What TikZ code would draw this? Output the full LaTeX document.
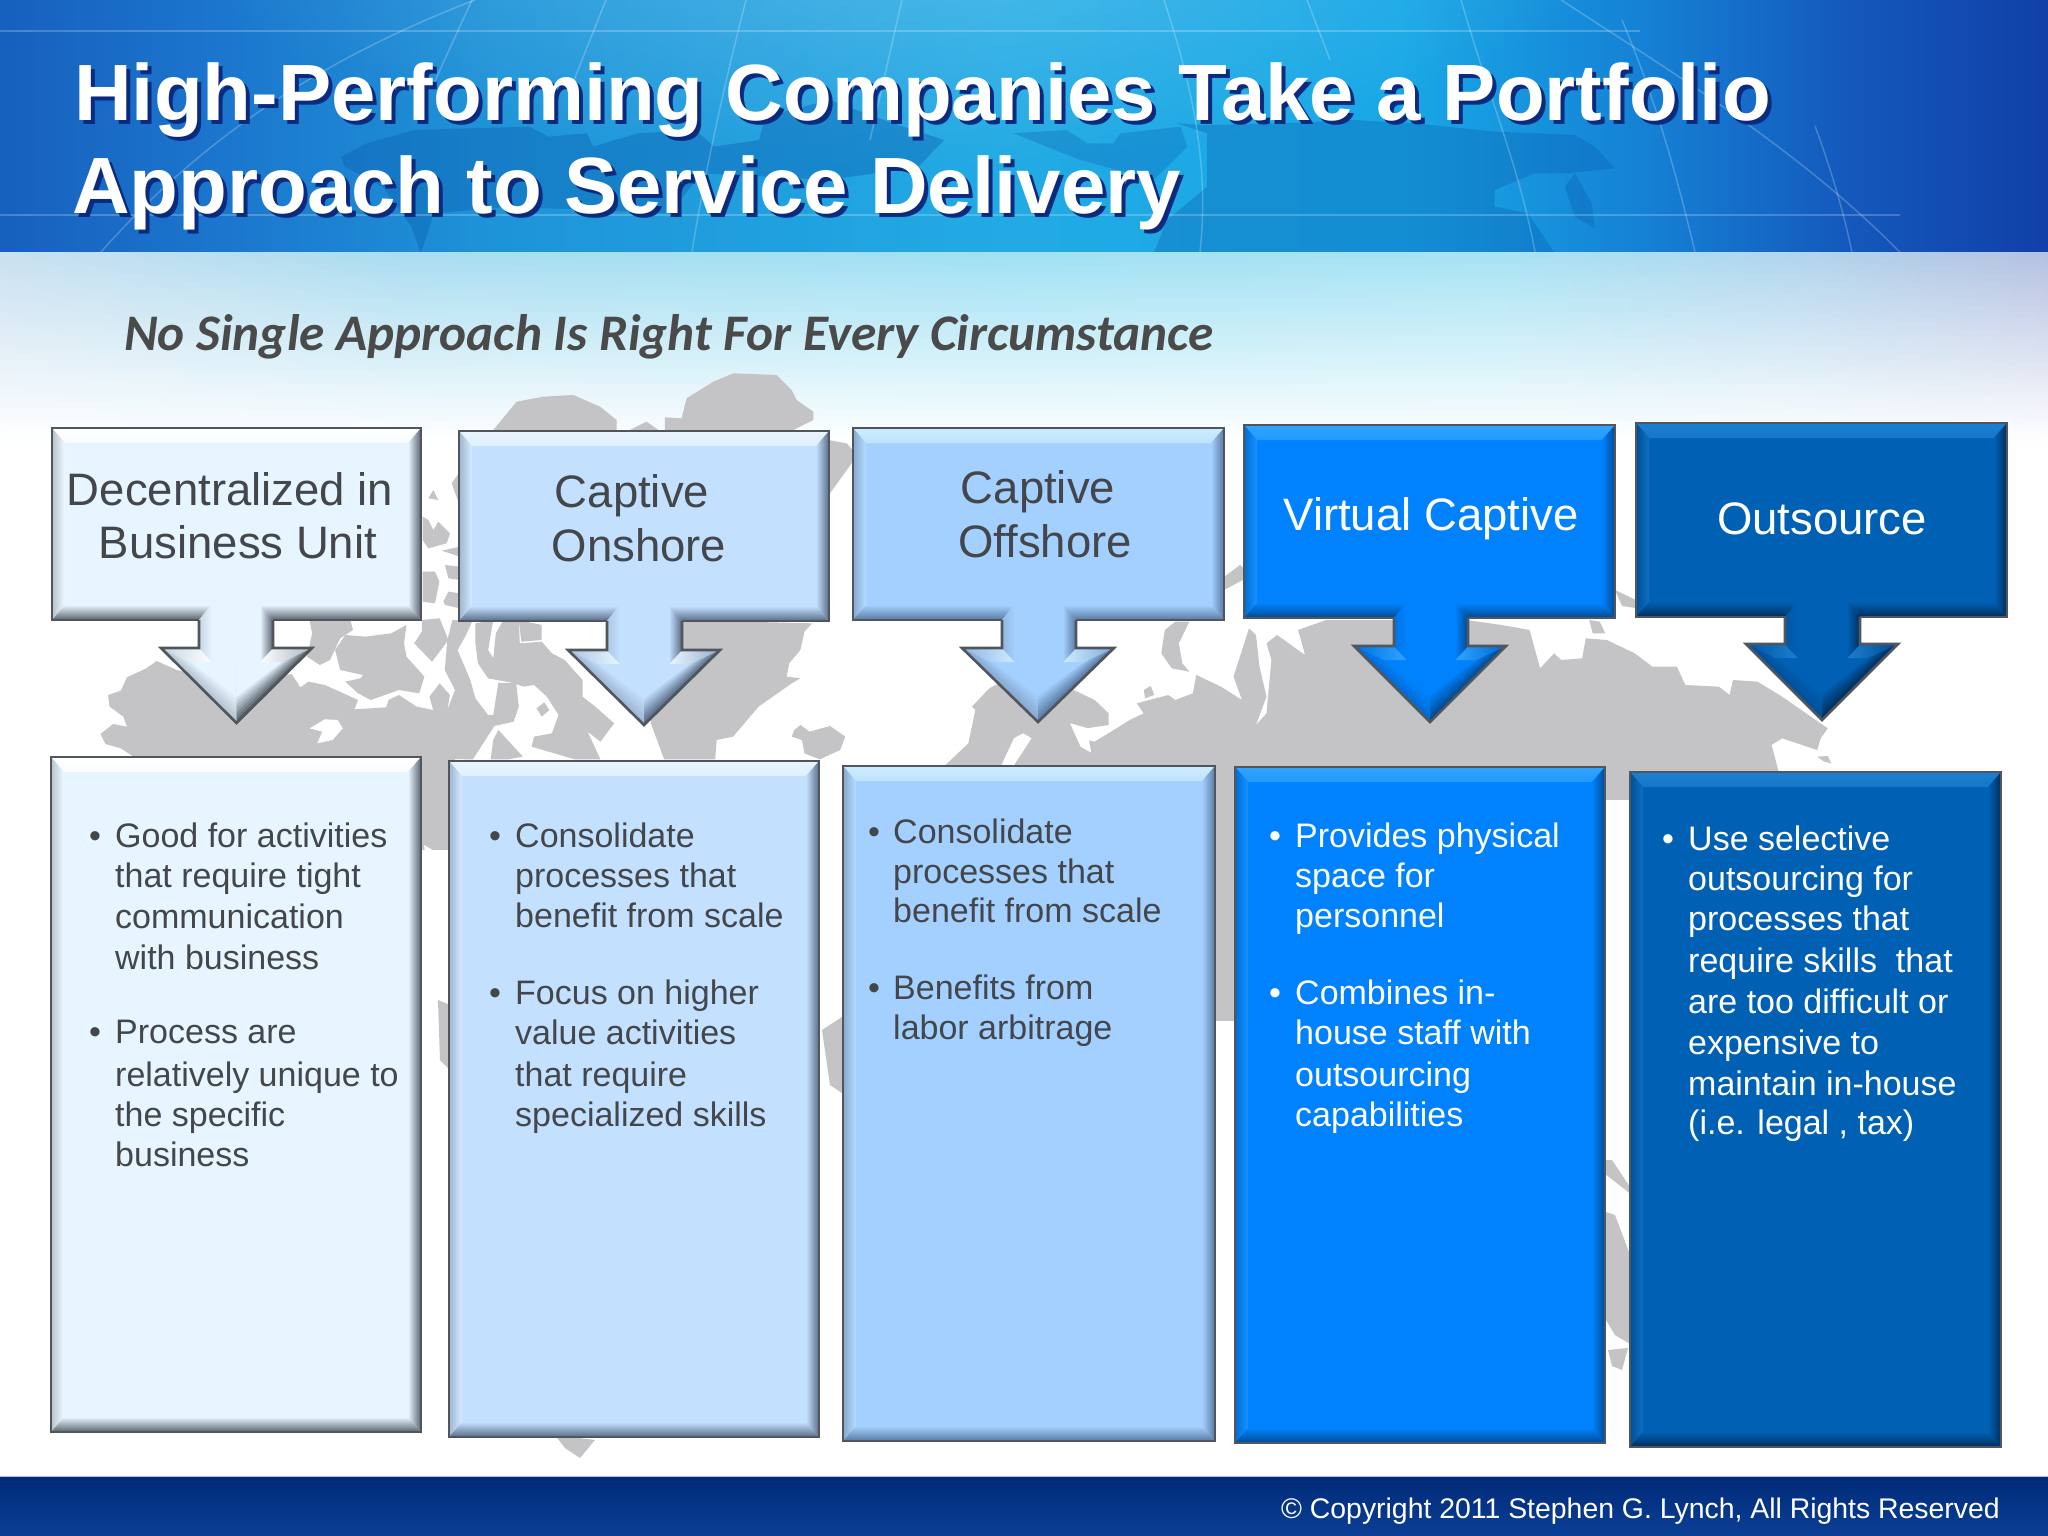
\documentclass[tikz,border=0pt]{standalone}
\usepackage{fontspec}
\setmainfont{Liberation Sans}
\newfontfamily\subf{Carlito}
\usetikzlibrary{fadings,calc}
\tikzfading[name=frad, inner color=transparent!0, outer color=transparent!100]
\definecolor{paF}{HTML}{E6F5FF}\definecolor{paH}{HTML}{FFFFFF}\definecolor{paL}{HTML}{B4C2CF}\definecolor{paD}{HTML}{5A636D}
\definecolor{pbF}{HTML}{C4E0FF}\definecolor{pbH}{HTML}{EAF6FF}\definecolor{pbL}{HTML}{9DB6D2}\definecolor{pbD}{HTML}{586C86}
\definecolor{pcF}{HTML}{A4D0FF}\definecolor{pcH}{HTML}{CCECFF}\definecolor{pcL}{HTML}{86A8CE}\definecolor{pcD}{HTML}{587AA2}
\definecolor{pdF}{HTML}{0082FF}\definecolor{pdH}{HTML}{30A4FF}\definecolor{pdL}{HTML}{006CD4}\definecolor{pdD}{HTML}{004A90}
\definecolor{peF}{HTML}{0060B4}\definecolor{peH}{HTML}{1C80D0}\definecolor{peL}{HTML}{004F98}\definecolor{peD}{HTML}{002E5C}
\definecolor{mapc}{HTML}{C4C3C5}
\definecolor{edgec}{HTML}{50565C}
\definecolor{txtd}{HTML}{43474B}
\definecolor{landd}{HTML}{0A5FB0}
\definecolor{foota}{HTML}{002A78}
\definecolor{footb}{HTML}{0B3F96}
\definecolor{footl}{HTML}{B0C0E0}
\definecolor{tshadow}{HTML}{0A2A80}
\definecolor{subc}{HTML}{4A4A4A}
\tikzset{
 land/.style={fill=mapc,draw=none},
 hole/.style={fill=white,draw=none},
 lbl/.style={anchor=base,inner sep=0pt,font=\fontsize{45.5}{50}\selectfont},
 bodyd/.style={anchor=base west,inner sep=0pt,text=txtd,font=\fontsize{34}{38}\selectfont},
 bodyw/.style={anchor=base west,inner sep=0pt,text=white,font=\fontsize{34}{38}\selectfont},
 bulld/.style={anchor=base,inner sep=0pt,text=txtd,font=\fontsize{34}{38}\selectfont},
 bullw/.style={anchor=base,inner sep=0pt,text=white,font=\fontsize{34}{38}\selectfont},
 ttl/.style={anchor=base west,inner sep=0pt,font=\fontsize{79.8}{88}\selectfont\bfseries},
 grid/.style={draw=white,opacity=.22,line width=1.5pt},
}
% name x1 y1 x2 y2 palette
\newcommand{\bevbox}[6]{%
 \fill[#6F] (#2,#3) rectangle (#4,#5);
 \path (#2,#3) coordinate (#1nw) (#4,#5) coordinate (#1se);
 \shade[top color=#6H,bottom color=#6H!70!#6F] (#2,#3) -- (#4,#3) -- (#4-13,#3+15) -- (#2+13,#3+15) -- cycle;
 \shade[left color=#6L,right color=#6H!50!#6F] (#2,#3) -- (#2+13,#3+15) -- (#2+13,#5-15) -- (#2,#5) -- cycle;
 \shade[left color=#6F,right color=#6D] (#4,#3) -- (#4-13,#3+15) -- (#4-13,#5-15) -- (#4,#5) -- cycle;
 \shade[top color=#6F,bottom color=#6D] (#2,#5) -- (#2+13,#5-15) -- (#4-13,#5-15) -- (#4,#5) -- cycle;
 \draw[edgec,line width=2.6pt] (#2,#3) rectangle (#4,#5);
}
% name sL sR wL wR wy tipy boxbottom palette
\newcommand{\bevarrow}[9]{%
 \pgfmathsetmacro\cx{(#4+#5)/2}%
 \path (\cx,#7) coordinate (#1tip);
 \foreach \k in {0,...,7}{%
  \pgfmathsetmacro\t{\k/7}%
  \pgfmathtruncatemacro\pc{100*(1-\t)}%
  \fill[{#9L!\pc!#9F}] (#4+30*\t,#6+14*\t) -- (\cx,#6+14*\t) -- (\cx,#7-26*\t) -- cycle;
  \fill[{#9D!\pc!#9F}] (#5-30*\t,#6+14*\t) -- (\cx,#6+14*\t) -- (\cx,#7-26*\t) -- cycle;
 }
 \fill[#9F] (#2+13,#8-16) -- (#3-13,#8-16) -- (#3,#8) -- (#3,#6+16) -- (#2,#6+16) -- (#2,#8) -- cycle;
 \shade[left color=#9L!60!#9F,right color=#9H] (#4+2,#6+1) -- (#2,#6+1) -- (#2+13,#6+14) -- (#4+30,#6+14) -- cycle;
 \shade[left color=#9H,right color=#9D!40!#9F] (#5-2,#6+1) -- (#3,#6+1) -- (#3-13,#6+14) -- (#5-30,#6+14) -- cycle;
 \shade[left color=#9L!60!#9F,right color=#9F] (#2,#8) -- (#2+13,#8-16) -- (#2+13,#6+14) -- (#2,#6) -- cycle;
 \shade[left color=#9F,right color=#9D] (#3-13,#8-16) -- (#3,#8) -- (#3,#6) -- (#3-13,#6+14) -- cycle;
 \draw[edgec,line width=2.6pt,line join=miter] (#2,#8) -- (#2,#6) -- (#4,#6) -- (\cx,#7) -- (#5,#6) -- (#3,#6) -- (#3,#8);
}
\newcommand{\hseg}[5]{\fill[left color=#3,right color=#4,#5] (#1,0) rectangle (#2,252);}
\begin{document}
\begin{tikzpicture}[x=1pt,y=-1pt]
\useasboundingbox (0,0) rectangle (2048,1536);
\fill[white] (0,0) rectangle (2048,1536);
% header
\definecolor{h0}{HTML}{1760BD}\definecolor{h1}{HTML}{1B74CC}\definecolor{h2}{HTML}{1E94D8}\definecolor{h3}{HTML}{22AAE4}
\definecolor{h4}{HTML}{18A8E6}\definecolor{h5}{HTML}{1580D4}\definecolor{h6}{HTML}{1458BC}\definecolor{h7}{HTML}{1040A8}
\hseg{0}{200.5}{h0}{h1}{}
\hseg{200}{500.5}{h1}{h2}{}
\hseg{500}{1000.5}{h2}{h3}{}
\hseg{1000}{1400.5}{h3}{h4}{}
\hseg{1400}{1650.5}{h4}{h5}{}
\hseg{1650}{1850.5}{h5}{h6}{}
\hseg{1850}{2048}{h6}{h7}{}
\begin{scope}
 \clip (0,0) rectangle (2048,252);
 \fill[white,opacity=.2,path fading=frad] (900,-60) ellipse [x radius=720,y radius=230];
 % world map in the header
 \begin{scope}[x=0.6378pt,y=-0.3333pt]
  \fill[landd,opacity=.4] (535,470) -- (575,430) -- (650,390) -- (830,380) -- (860,410) -- (920,400) -- (930,440) -- (1000,400) -- (1090,390) -- (1120,440) -- (1190,420) -- (1200,350) -- (1300,300) -- (1400,370) -- (1480,420) -- (1440,500) -- (1300,540) -- (1100,520) -- (1050,640) -- (800,620) -- (680,640) -- (660,760) -- (645,680) -- (600,560) -- (540,500) -- cycle;
 \end{scope}
 \begin{scope}[shift={(1000,0)},x=0.6684pt,y=-0.3333pt]
  \fill[landd,opacity=.35] (265,370) -- (300,375) -- (400,372) -- (530,360) -- (620,370) -- (740,395) -- (860,405) -- (890,440) -- (920,505) -- (850,520) -- (800,520) -- (740,570) -- (740,620) -- (790,640) -- (830,760) -- (230,760) -- (250,660) -- (310,560) -- (310,400) -- cycle;
  \fill[landd,opacity=.35] (845,560) -- (860,520) -- (885,610) -- (890,685) -- (860,650) -- cycle;
  \fill[landd,opacity=.3] (20,400) -- (100,390) -- (130,430) -- (170,430) -- (180,400) -- (270,380) -- (280,440) -- (230,540) -- (120,480) -- cycle;
 \end{scope}
 % graticule
 \draw[grid] (0,31) -- (1640,31);
 \draw[grid] (0,215) -- (1900,215);
 \draw[grid] (475,0) .. controls (319,60) and (191,143) .. (83,273);
 \draw[grid] (472,0) -- (434,83);
 \draw[grid] (606,0) -- (574,80);
 \draw[grid] (746,0) .. controls (720,100) and (700,200) .. (692,252);
 \draw[grid] (902,0) -- (870,140);
 \draw[grid] (1164,0) .. controls (1190,80) and (1210,160) .. (1200,252);
 \draw[grid] (1307,0) -- (1330,60);
 \draw[grid] (1461,0) .. controls (1490,100) and (1520,170) .. (1535,252);
 \draw[grid] (1561,0) .. controls (1700,90) and (1830,170) .. (1935,290);
 \draw[grid] (1622,20) .. controls (1660,110) and (1680,190) .. (1695,252);
 \draw[grid] (1815,126) .. controls (1835,180) and (1845,220) .. (1852,252);
\end{scope}
% fade below header
\definecolor{f0}{HTML}{C9E0F0}\definecolor{f1}{HTML}{A9DCF0}\definecolor{f2}{HTML}{9FE0F3}\definecolor{f3}{HTML}{A7E2F3}\definecolor{f4}{HTML}{B0D4EC}\definecolor{f5}{HTML}{B4C0E0}
\foreach \r in {0,...,31}{%
 \pgfmathtruncatemacro\p{100*(1-(\r+.5)/32)}%
 \pgfmathsetmacro\yy{252+6*\r}%
 \foreach \a/\b/\ca/\cb in {0/400/f0/f1,400/1000/f1/f2,1000/1500/f2/f3,1500/1800/f3/f4,1800/2048/f4/f5}{%
  \shade[left color=\ca!\p!white,right color=\cb!\p!white] (\a,\yy) rectangle (\b+.5,\yy+6.5);
 }
}
% grey map, left part
\begin{scope}[shift={(80,600)},x=0.5102pt,y=-0.3333pt]
 \fill[land] (150,183) -- (130,205) -- (92,232) -- (80,272) -- (55,285) -- (58,320) -- (85,350) -- (92,380) -- (65,372) -- (40,402) -- (50,432) -- (80,445) -- (105,470) -- (770,478) -- (805,395) -- (812,378) -- (850,365) -- (860,320) -- (855,250) -- (820,248) -- (810,345) -- (800,345) -- (775,295) -- (765,240) -- (740,150) -- (755,110) -- (770,60) -- (730,60) -- (720,120) -- (715,210) -- (735,270) -- (720,330) -- (725,285) -- (705,250) -- (685,290) -- (692,330) -- (660,320) -- (625,285) -- (605,300) -- (600,322) -- (538,328) -- (545,300) -- (480,255) -- (448,245) -- (432,262) -- (415,222) -- (300,250) -- (190,210) -- cycle;
 \fill[hole] (450,385) -- (480,358) -- (505,360) -- (515,385) -- (495,420) -- (465,430) -- (475,395) -- cycle;
 \fill[land] (450,60) -- (530,60) -- (535,90) -- (510,115) -- (490,180) -- (470,195) -- (445,170) -- (455,100) -- cycle;
 \fill[land] (500,150) -- (520,105) -- (560,110) -- (610,100) -- (640,75) -- (635,130) -- (640,170) -- (675,230) -- (665,280) -- (625,270) -- (570,300) -- (545,280) -- (520,245) -- (550,235) -- (555,225) -- (510,210) -- cycle;
 \fill[land] (670,60) -- (705,55) -- (722,120) -- (690,185) -- (655,130) -- (670,95) -- cycle;
 \fill[land] (775,70) -- (810,60) -- (800,150) -- (810,175) -- (815,100) -- (830,60) -- (860,60) -- (862,130) -- (905,125) -- (925,160) -- (950,180) -- (985,240) -- (985,290) -- (1010,320) -- (1047,370) -- (1020,425) -- (995,395) -- (1020,478) -- (970,478) -- (885,440) -- (890,410) -- (925,400) -- (938,345) -- (915,290) -- (890,255) -- (870,260) -- (845,248) -- (800,235) -- (780,190) -- (775,130) -- cycle;
 \fill[land] (860,60) -- (905,75) -- (905,120) -- (865,125) -- cycle;
 \fill[land] (895,325) -- (910,307) -- (920,330) -- (905,350) -- cycle;
 \fill[land] (820,390) -- (868,470) -- (840,478) -- (805,478) -- (810,420) -- cycle;
 \fill[land] (1170,60) -- (1435,70) -- (1420,95) -- (1412,150) -- (1390,190) -- (1385,230) -- (1412,235) -- (1395,250) -- (1330,320) -- (1280,410) -- (1248,420) -- (1245,478) -- (1145,478) -- (1120,375) -- (1110,300) -- (1170,200) -- cycle;
 \fill[land] (1400,390) -- (1412,375) -- (1430,395) -- (1470,378) -- (1500,410) -- (1490,450) -- (1450,478) -- (1420,460) -- (1415,420) -- (1395,410) -- cycle;
\end{scope}
% grey map, upper islands
\begin{scope}[shift={(400,360)},x=0.3333pt,y=-0.3333pt]
 \fill[land] (85,415) -- (100,390) -- (115,420) -- cycle;
 \fill[land] (68,470) -- (85,480) -- (100,510) -- (115,485) -- (150,520) -- (140,550) -- (85,565) -- (68,540) -- cycle;
 \fill[land] (125,572) -- (180,560) -- (180,590) -- cycle;
 \fill[land] (135,615) -- (180,620) -- (180,660) -- (145,655) -- cycle;
 \fill[land] (68,635) -- (105,635) -- (118,665) -- (105,730) -- (68,725) -- cycle;
 \fill[land] (130,725) -- (145,695) -- (180,700) -- (180,745) -- (135,735) -- cycle;
 \fill[land] (180,335) -- (155,370) -- (180,440) -- cycle;
 \fill[land] (280,210) -- (350,125) -- (430,110) -- (520,105) -- (600,140) -- (650,180) -- (650,210) -- cycle;
 \fill[land] (690,210) -- (740,185) -- (775,210) -- cycle;
 \fill[land] (795,210) -- (795,172) -- (845,175) -- (860,115) -- (940,65) -- (1000,40) -- (1130,45) -- (1175,90) -- (1190,120) -- (1240,155) -- (1240,180) -- (1180,210) -- cycle;
 \fill[land] (1285,240) -- (1340,250) -- (1358,270) -- (1355,310) -- (1290,400) -- cycle;
\end{scope}
% grey map, right part
\begin{scope}[shift={(800,600)},x=0.7015pt,y=-0.3333pt]
 \fill[land] (205,500) -- (240,430) -- (250,330) -- (245,320) -- (270,265) -- (300,230) -- (390,270) -- (420,300) -- (440,340) -- (440,375) -- (410,385) -- (385,370) -- (410,420) -- (420,425) -- (455,380) -- (470,360) -- (490,340) -- (480,310) -- (525,285) -- (535,300) -- (560,280) -- (565,225) -- (600,260) -- (630,300) -- (618,230) -- (640,85) -- (650,105) -- (655,200) -- (665,290) -- (650,375) -- (665,340) -- (672,180) -- (665,130) -- (680,105) -- (720,165) -- (710,90) -- (750,60) -- (950,60) -- (1000,75) -- (1040,90) -- (1055,205) -- (1075,160) -- (1085,180) -- (1115,175) -- (1120,115) -- (1150,120) -- (1190,160) -- (1215,200) -- (1250,200) -- (1262,255) -- (1310,260) -- (1325,285) -- (1330,240) -- (1365,245) -- (1400,290) -- (1465,385) -- (1455,415) -- (1450,450) -- (1400,415) -- (1385,435) -- (1395,515) -- (205,515) -- cycle;
 \fill[hole] (285,505) -- (305,415) -- (318,400) -- (330,415) -- (302,505) -- cycle;
 \fill[hole] (385,370) -- (410,385) -- (425,380) -- (412,420) -- (415,458) -- (400,440) -- cycle;
 \fill[land] (520,90) -- (535,65) -- (555,65) -- (540,130) -- (545,190) -- (555,215) -- (530,205) -- (515,160) -- cycle;
 \fill[land] (490,270) -- (500,258) -- (505,285) -- (492,295) -- cycle;
 \fill[land] (1125,60) -- (1140,65) -- (1148,100) -- (1130,100) -- cycle;
 \fill[land] (1450,470) -- (1465,468) -- (1470,490) -- (1460,485) -- cycle;
\end{scope}
% grey map, pieces in the gaps
\fill[land] (1224,577) -- (1240,565) -- (1246,570) -- (1243,580) -- (1224,590) -- cycle;
\fill[land] (1615,590) -- (1636,600) -- (1636,608) -- (1622,606) -- cycle;
\fill[land] (415,755) rectangle (455,850);
\fill[hole] (424,845) -- (436,852) -- (444,872) -- (436,875) -- (426,860) -- cycle;
\fill[land] (438,1000) -- (450,1005) -- (450,1070) -- (440,1060) -- cycle;
\fill[land] (822,1030) -- (845,1015) -- (845,1095) -- (830,1085) -- cycle;
\fill[land] (1210,760) rectangle (1240,1021);
\fill[land] (1600,765) rectangle (1635,800);
\fill[land] (1600,1160) -- (1612,1160) -- (1632,1190) -- (1632,1195) -- (1600,1170) -- cycle;
\fill[land] (1600,1210) -- (1615,1215) -- (1632,1260) -- (1632,1345) -- (1615,1335) -- (1600,1310) -- cycle;
\fill[land] (1608,1350) -- (1628,1348) -- (1622,1370) -- (1612,1366) -- cycle;
\fill[land] (555,1435) -- (595,1440) -- (580,1458) -- (565,1448) -- cycle;
% top boxes
\bevbox{ta}{52}{428}{421}{620}{pa}
\bevarrow{aa}{199}{273}{161}{312}{648}{723}{620}{pa}
\bevbox{tb}{459}{431}{829}{621}{pb}
\bevarrow{ab}{607}{682}{568}{720}{650}{725}{621}{pb}
\bevbox{tc}{853}{428}{1224}{620}{pc}
\bevarrow{ac}{1002}{1076}{962}{1114}{648}{722}{620}{pc}
\bevbox{td}{1244}{425}{1615}{618}{pd}
\bevarrow{ad}{1394}{1468}{1354}{1506}{646}{722}{618}{pd}
\bevbox{te}{1636}{423}{2007}{617}{pe}
\bevarrow{ae}{1785}{1860}{1746}{1898}{644}{720}{617}{pe}
% bottom boxes
\bevbox{ba}{51}{757}{421}{1432}{pa}
\bevbox{bb}{449}{761}{819}{1437}{pb}
\bevbox{bc}{843}{766}{1215}{1441}{pc}
\bevbox{bd}{1235}{767}{1605}{1443}{pd}
\bevbox{be}{1630}{772}{2001}{1447}{pe}
% footer
\shade[top color=foota,bottom color=footb] (0,1476) rectangle (2048,1536);
\draw[footl,line width=1pt] (0,1476) -- (2048,1476);
\node[anchor=base east,inner sep=0pt,text=white,font=\fontsize{28.4}{32}\selectfont] (copy) at (2000,1518) {© Copyright 2011 Stephen G. Lynch, All Rights Reserved};
% title
\node[ttl,text=tshadow] (ts1) at (78,125) {High-Performing Companies Take a Portfolio};
\node[ttl,text=tshadow] (ts2) at (76,217) {Approach to Service Delivery};
\node[ttl,text=white] (t1) at (74,121) {High-Performing Companies Take a Portfolio};
\node[ttl,text=white] (t2) at (72,213) {Approach to Service Delivery};
\node[anchor=base west,inner sep=0pt,text=subc,font=\subf\fontsize{51.3}{56}\selectfont\bfseries\itshape] (sub) at (124,350) {No Single Approach Is Right For Every Circumstance};
% box labels
\node[lbl,text=txtd] (la1) at (230,505) {Decentralized in};
\node[lbl,text=txtd] (la2) at (238,558) {Business Unit};
\node[lbl,text=txtd] (lb1) at (632,507) {Captive};
\node[lbl,text=txtd] (lb2) at (639,561) {Onshore};
\node[lbl,text=txtd] (lc1) at (1038,503) {Captive};
\node[lbl,text=txtd] (lc2) at (1045,557) {Offshore};
\node[lbl,text=white] (ld1) at (1431,530) {Virtual Captive};
\node[lbl,text=white] (le1) at (1822,534) {Outsource};
% column 1
\node[bulld] (a0) at (95,847) {•};
\node[bodyd] (a1) at (115,847) {Good for activities};
\node[bodyd] (a2) at (115,887) {that require tight};
\node[bodyd] (a3) at (115,928) {communication};
\node[bodyd] (a4) at (115,969) {with business};
\node[bulld] (a5) at (95,1043) {•};
\node[bodyd] (a6) at (115,1043) {Process are};
\node[bodyd] (a7) at (115,1086) {relatively unique to};
\node[bodyd] (a8) at (115,1126) {the specific};
\node[bodyd] (a9) at (115,1166) {business};
% column 2
\node[bulld] (b0) at (495,847) {•};
\node[bodyd] (b1) at (515,847) {Consolidate};
\node[bodyd] (b2) at (515,887) {processes that};
\node[bodyd] (b3) at (515,927) {benefit from scale};
\node[bulld] (b4) at (495,1004) {•};
\node[bodyd] (b5) at (515,1004) {Focus on higher};
\node[bodyd] (b6) at (515,1044) {value activities};
\node[bodyd] (b7) at (515,1086) {that require};
\node[bodyd] (b8) at (515,1126) {specialized skills};
% column 3
\node[bulld] (c0) at (874,843) {•};
\node[bodyd] (c1) at (893,843) {Consolidate};
\node[bodyd] (c2) at (893,883) {processes that};
\node[bodyd] (c3) at (893,922) {benefit from scale};
\node[bulld] (c4) at (874,999) {•};
\node[bodyd] (c5) at (893,999) {Benefits from};
\node[bodyd] (c6) at (893,1039) {labor arbitrage};
% column 4
\node[bullw] (d0) at (1275,847) {•};
\node[bodyw] (d1) at (1295,847) {Provides physical};
\node[bodyw] (d2) at (1295,887) {space for};
\node[bodyw] (d3) at (1295,927) {personnel};
\node[bullw] (d4) at (1275,1004) {•};
\node[bodyw] (d5) at (1295,1004) {Combines in-};
\node[bodyw] (d6) at (1295,1044) {house staff with};
\node[bodyw] (d7) at (1295,1086) {outsourcing};
\node[bodyw] (d8) at (1295,1126) {capabilities};
% column 5
\node[bullw] (e0) at (1668,850) {•};
\node[bodyw] (e1) at (1688,850) {Use selective};
\node[bodyw] (e2) at (1688,890) {outsourcing for};
\node[bodyw] (e3) at (1688,930) {processes that};
\node[bodyw] (e4) at (1688,972) {require skills~ that};
\node[bodyw] (e5) at (1688,1013) {are too difficult or};
\node[bodyw] (e6) at (1688,1054) {expensive to};
\node[bodyw] (e7) at (1688,1095) {maintain in-house};
\node[bodyw] (e8) at (1688,1134) {(i.e. legal , tax)};
\end{tikzpicture}
\end{document}
